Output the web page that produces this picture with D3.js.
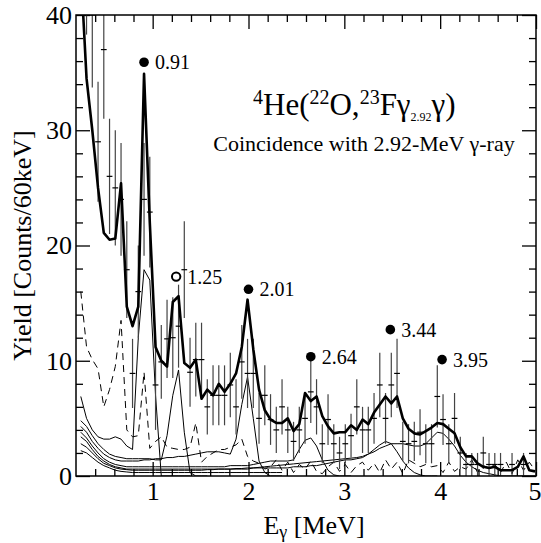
<!DOCTYPE html>
<html>
<head>
<meta charset="utf-8">
<script src="https://cdn.jsdelivr.net/npm/d3@7"></script>
<style>
  body { margin: 0; background: #fff; }
  svg, svg text { font-family: "Liberation Serif", "Times New Roman", Times, serif; }
</style>
</head>
<body>
<div id="chart"></div>
<script>
// bin centres, 60 keV bins
var energies = [
  0.25,0.31,0.37,0.43,0.49,0.55,0.61,0.67,0.73,0.79,
  0.85,0.91,0.97,1.03,1.09,1.15,1.21,1.27,1.33,1.39,
  1.45,1.51,1.57,1.63,1.69,1.75,1.81,1.87,1.93,1.99,
  2.05,2.11,2.17,2.23,2.29,2.35,2.41,2.47,2.53,2.59,
  2.65,2.71,2.77,2.83,2.89,2.95,3.01,3.07,3.13,3.19,
  3.25,3.31,3.37,3.43,3.49,3.55,3.61,3.67,3.73,3.79,
  3.85,3.91,3.97,4.03,4.09,4.15,4.21,4.27,4.33,4.39,
  4.45,4.51,4.57,4.63,4.69,4.75,4.81,4.87,4.93,4.99];

// measured counts and errors
var counts = [
  48, 45, 40, 29, 37, 26, 25, 24, 17.9, 8.9,
  16.0, 24, 22.9, 7.9, 9.9, 11.9, 12.0, 13.0, 17.9, 9.0,
  10.1, 10.1, 6.0, 7.0, 7.0, 7.0, 7.9, 6.0, 9.9, 8.9,
  8.9, 5.0, 7.0, 4.9, 4.0, 6.0, 4.0, 3.0, 4.0, 5.0,
  7.3, 6.0, 2.8, 4.9, 2.8, 2.0, 2.8, 3.5, 6.0, 4.0,
  4.0, 5.0, 7.9, 5.0, 7.9, 8.9, 3.0, 2.8, 3.0, 3.8,
  2.8, 2.8, 6.9, 4.9, 2.8, 5.0, 2.0, 1.0, 1.0, 1.0,
  2.0, 1.0, 1.0, 1.0, 0, 1.0, 0, 1.0, 0, 0];
var countErr = [
  7, 6.7, 6.3, 5.2, 6.0, 5.0, 5.0, 4.9, 4.2, 3.0,
  4.0, 4.9, 4.8, 3.9, 3.2, 3.4, 3.5, 3.6, 4.2, 3.0,
  3.2, 3.2, 2.4, 2.6, 2.6, 2.6, 2.8, 2.4, 3.2, 3.0,
  3.0, 2.2, 2.6, 2.2, 2.0, 2.4, 2.0, 1.7, 2.0, 2.2,
  2.7, 2.4, 1.7, 2.2, 1.7, 1.4, 1.7, 1.9, 2.4, 2.0,
  2.0, 2.2, 2.8, 2.2, 2.8, 3.0, 1.7, 1.7, 1.7, 2.0,
  1.7, 1.7, 2.7, 2.2, 1.7, 2.2, 1.4, 1.0, 1.0, 1.0,
  1.4, 1.0, 1.0, 1.0, 0, 1.0, 0, 1.0, 0, 0];

// total fit
var fitTotal = [
  44, 34.5, 30.0, 25.0, 21.1, 20.5, 20.6, 25.4, 14.7, 13.0,
  14.7, 34.9, 22.0, 11.2, 10.0, 9.5, 15.1, 15.6, 9.8, 9.4,
  10.1, 6.7, 7.5, 7.0, 8.0, 7.3, 8.0, 8.9, 11.2, 15.3,
  11.0, 7.5, 5.7, 4.9, 4.6, 4.6, 5.0, 3.9, 4.5, 7.2,
  6.5, 6.9, 5.2, 4.3, 3.7, 3.8, 3.8, 4.4, 4.0, 4.9,
  4.5, 5.5, 6.2, 6.9, 6.3, 6.9, 5.0, 4.1, 3.7, 3.6,
  3.9, 4.2, 4.6, 4.5, 4.1, 3.7, 2.5, 1.7, 1.7, 1.1,
  0.8, 0.7, 0.8, 0.5, 0.5, 0.5, 0.8, 1.7, 0.5, 0.4];

// response functions (thin solid)
var resp091 = [
  6.9, 5.0, 4.0, 3.4, 3.2, 3.2, 3.4, 3.2, 2.6, 2.3,
  12.0, 17.9, 17.0, 7.0, 0, 0, 0, 0, 0, 0];
var resp125 = [
  4.8, 4.3, 3.5, 2.8, 2.3, 1.9, 1.7, 1.6, 1.5, 1.5,
  1.5, 1.5, 1.5, 1.4, 1.4, 3.5, 7.0, 9.2, 3.8, 0.3,
  0, 0, 0];
var resp201 = [
  4.3, 3.8, 3.0, 2.4, 1.9, 1.6, 1.4, 1.3, 1.3, 1.3,
  1.3, 1.4, 1.4, 1.5, 1.5, 1.6, 1.6, 1.7, 1.7, 1.8,
  1.9, 2.0, 2.1, 2.1, 2.1, 2.0, 1.9, 3.2, 6.2, 8.6,
  5.0, 1.3, 0.3, 0, 0, 0];
var resp264 = [
  3.8, 3.3, 2.6, 2.0, 1.5, 1.2, 1.0, 0.9, 0.8, 0.8,
  0.8, 0.8, 0.8, 0.8, 0.8, 0.8, 0.8, 0.8, 0.8, 0.8,
  0.8, 0.8, 0.8, 0.8, 0.8, 0.8, 0.9, 0.9, 0.9, 0.9,
  1.0, 1.1, 1.2, 1.3, 1.3, 1.3, 1.3, 1.4, 2.3, 3.1,
  3.3, 2.6, 1.4, 0.5, 0.1, 0, 0, 0];
var resp344 = [
  3.4, 3.0, 2.3, 1.7, 1.3, 1.0, 0.8, 0.7, 0.6, 0.6,
  0.6, 0.6, 0.6, 0.6, 0.6, 0.6, 0.6, 0.6, 0.6, 0.6,
  0.6, 0.6, 0.6, 0.6, 0.6, 0.6, 0.6, 0.6, 0.6, 0.6,
  0.7, 0.7, 0.7, 0.7, 0.7, 0.7, 0.7, 0.8, 0.8, 0.8,
  0.9, 0.9, 1.0, 1.1, 1.2, 1.3, 1.4, 1.4, 1.5, 1.6,
  1.9, 2.3, 2.7, 3.0, 2.8, 2.1, 1.3, 0.7, 0.3, 0.1,
  0, 0, 0];
var resp395 = [
  2.8, 2.5, 2.0, 1.5, 1.1, 0.9, 0.7, 0.6, 0.55, 0.5,
  0.5, 0.5, 0.5, 0.5, 0.5, 0.5, 0.5, 0.5, 0.5, 0.5,
  0.5, 0.5, 0.55, 0.55, 0.6, 0.6, 0.6, 0.65, 0.65, 0.7,
  0.7, 0.75, 0.8, 0.85, 0.9, 0.95, 1.0, 1.05, 1.1, 1.15,
  1.2, 1.25, 1.3, 1.35, 1.4, 1.45, 1.5, 1.55, 1.6, 1.7,
  1.9, 2.1, 2.4, 2.6, 2.8, 2.8, 2.8, 2.7, 2.6, 2.6,
  2.8, 3.3, 3.8, 3.7, 3.2, 2.6, 1.8, 1.2, 0.8, 0.5,
  0.3, 0.2, 0.1, 0, 0, 0, 0, 0, 0, 0];
var lowCurve = [
  2.2, 2.0, 1.6, 1.2, 0.9, 0.7, 0.5, 0.4, 0.35, 0.3,
  0.3, 0.3, 0.3, 0.3, 0.3, 0.3, 0.3, 0.3, 0.3, 0.3,
  0.3, 0.3, 0.3, 0.3, 0.3, 0.3, 0.3, 0.3, 0.3, 0.3,
  0.3, 0.3, 0.3, 0.3, 0.3, 0.3];

// background (dashed)
var background = [
  16, 11.2, 10.1, 9.3, 6.0, 7.5, 9.5, 13.5, 4.0, 3.4,
  3.5, 9.0, 2.4, 3.0, 3.4, 2.5, 2.4, 2.3, 2.3, 2.5,
  4.6, 1.2, 1.7, 2.0, 2.3, 2.3, 2.5, 2.7, 3.2, 1.7,
  1.3, 1.1, 0.6, 0.8, 1.4, 0.5, 1.2, 0.3, 1.0, 0.6,
  1.3, 0.4, 0.2, 0.8, 1.2, 0.4, 1.0, 0.3, 0.9, 1.2,
  0.5, 1.1, 0.3, 1.4, 0.6, 1.2, 0.2, 1.4, 1.1, 0.8,
  1.0, 0.8, 0.9, 0.3, 1.2, 0.4, 0.8, 0.6, 1.4, 0.3,
  0.9, 0.7, 1.0, 0.3, 1.2, 0.2, 1.4, 0.5, 1.2, 0.5];

// peak markers
var peakLabels = ["0.91", "1.25", "2.01", "2.64", "3.44", "3.95"];
var peakDotE   = [0.91, 1.245, 2.00, 2.65, 3.48, 4.02];
var peakDotY   = [35.9, 17.3, 16.2, 10.35, 12.7, 10.1];
var peakOpen   = [false, true, false, false, false, false];

var xMajor = [1, 2, 3, 4, 5];
var xMinor = [0.4,0.6,0.8,1.2,1.4,1.6,1.8,2.2,2.4,2.6,2.8,3.2,3.4,3.6,3.8,4.2,4.4,4.6,4.8];
var yMajor = [0, 10, 20, 30, 40];
var yMinor = [2,4,6,8,12,14,16,18,22,24,26,28,32,34,36,38];

var margin = { top: 15, right: 5, bottom: 67, left: 76 };
var width = 541 - margin.left - margin.right;
var height = 543 - margin.top - margin.bottom;

var svg = d3.select("#chart")
  .append("svg")
  .attr("width", 541)
  .attr("height", 543);

var g = svg.append("g")
  .attr("transform", "translate(" + margin.left + "," + margin.top + ")");

var x = d3.scaleLinear().domain([0.2, 5]).range([0, width]);
var y = d3.scaleLinear().domain([0, 40]).range([height, 0]);

svg.append("defs").append("clipPath").attr("id", "clip")
  .append("rect").attr("width", width).attr("height", height);

// axes, ticks inside on all four sides
function styleAxis(sel, fs) {
  sel.select(".domain").remove();
  sel.attr("font-family", null).attr("font-size", null);
  sel.selectAll(".tick line").attr("stroke", "#000").attr("stroke-width", 1.3);
  sel.selectAll("text").attr("font-size", fs).attr("fill", "#000");
}

var xAxisG = g.append("g").attr("transform", "translate(0," + height + ")")
  .call(d3.axisBottom(x).tickValues(xMajor).tickSize(-14).tickSizeOuter(0).tickPadding(6).tickFormat(d3.format("d")))
  .call(styleAxis, 26);
// last label sits on the window edge
xAxisG.selectAll(".tick text").filter(d => d === 5).attr("text-anchor", "end").attr("dx", 5);

g.append("g").attr("transform", "translate(0," + height + ")")
  .call(d3.axisBottom(x).tickValues(xMinor).tickSize(-7).tickSizeOuter(0).tickFormat(""))
  .call(styleAxis, 0);
g.append("g")
  .call(d3.axisTop(x).tickValues(xMajor).tickSize(-14).tickSizeOuter(0).tickFormat(""))
  .call(styleAxis, 0);
g.append("g")
  .call(d3.axisTop(x).tickValues(xMinor).tickSize(-7).tickSizeOuter(0).tickFormat(""))
  .call(styleAxis, 0);

g.append("g")
  .call(d3.axisLeft(y).tickValues(yMajor).tickSize(-14).tickSizeOuter(0).tickPadding(4).tickFormat(d3.format("d")))
  .call(styleAxis, 26);
g.append("g")
  .call(d3.axisLeft(y).tickValues(yMinor).tickSize(-7).tickSizeOuter(0).tickFormat(""))
  .call(styleAxis, 0);
g.append("g").attr("transform", "translate(" + width + ",0)")
  .call(d3.axisRight(y).tickValues(yMajor).tickSize(-14).tickSizeOuter(0).tickFormat(""))
  .call(styleAxis, 0);
g.append("g").attr("transform", "translate(" + width + ",0)")
  .call(d3.axisRight(y).tickValues(yMinor).tickSize(-7).tickSizeOuter(0).tickFormat(""))
  .call(styleAxis, 0);

var plot = g.append("g").attr("clip-path", "url(#clip)");

var line = d3.line()
  .x((d, i) => x(energies[i]))
  .y(d => y(d));

// background dashed
plot.append("path").datum(background)
  .attr("d", line).attr("fill", "none")
  .attr("stroke", "#000").attr("stroke-width", 1).attr("stroke-dasharray", "7,5");

// thin response curves
[resp091, resp125, resp201, resp264, resp344, resp395, lowCurve].forEach(function(s) {
  plot.append("path").datum(s)
    .attr("d", line).attr("fill", "none")
    .attr("stroke", "#000").attr("stroke-width", 1);
});

// data points with error bars
var pts = energies.map((e, i) => ({ e: e, v: counts[i], err: countErr[i] })).filter(d => d.v > 0);

plot.selectAll(".ebar").data(pts).enter().append("line")
  .attr("x1", d => x(d.e)).attr("x2", d => x(d.e))
  .attr("y1", d => y(d.v - d.err)).attr("y2", d => y(d.v + d.err))
  .attr("stroke", "#444").attr("stroke-width", 1.2);

plot.selectAll(".hbar").data(pts).enter().append("line")
  .attr("x1", d => x(d.e - 0.03)).attr("x2", d => x(d.e + 0.03))
  .attr("y1", d => y(d.v)).attr("y2", d => y(d.v))
  .attr("stroke", "#000").attr("stroke-width", 1.2);

// total fit
plot.append("path").datum(fitTotal)
  .attr("d", line).attr("fill", "none")
  .attr("stroke", "#000").attr("stroke-width", 2.6).attr("stroke-linejoin", "round");

// frame
g.append("rect").attr("width", width).attr("height", height)
  .attr("fill", "none").attr("stroke", "#000").attr("stroke-width", 1.5);

// peak markers
peakLabels.forEach(function(lab, i) {
  g.append("circle")
    .attr("cx", x(peakDotE[i])).attr("cy", y(peakDotY[i])).attr("r", peakOpen[i] ? 4.2 : 4.8)
    .attr("fill", peakOpen[i] ? "#fff" : "#000")
    .attr("stroke", "#000").attr("stroke-width", peakOpen[i] ? 2 : 0);
  g.append("text")
    .attr("x", x(peakDotE[i]) + 11).attr("y", y(peakDotY[i])).attr("dy", "0.35em")
    .attr("font-size", 20).text(lab);
});

// reaction title
var t = svg.append("text").attr("x", 253).attr("y", 115).attr("font-size", 31);
t.append("tspan").attr("font-size", 20).attr("dy", -11).text("4");
t.append("tspan").attr("dy", 11).text("He(");
t.append("tspan").attr("font-size", 20).attr("dy", -11).text("22");
t.append("tspan").attr("dy", 11).text("O,");
t.append("tspan").attr("font-size", 20).attr("dy", -11).text("23");
t.append("tspan").attr("dy", 11).text("F\u03b3");
t.append("tspan").attr("font-size", 12).attr("dy", 6).text("2.92");
t.append("tspan").attr("dy", -6).text("\u03b3)");

svg.append("text").attr("x", 364).attr("y", 151).attr("text-anchor", "middle")
  .attr("font-size", 22).text("Coincidence with 2.92-MeV \u03b3-ray");

// axis titles
var xt = svg.append("text").attr("x", margin.left + width / 2 + 8).attr("y", 534)
  .attr("text-anchor", "middle").attr("font-size", 26);
xt.append("tspan").text("E");
xt.append("tspan").attr("font-size", 18).attr("dy", 4).text("\u03b3");
xt.append("tspan").attr("dy", -4).text(" [MeV]");

svg.append("text")
  .attr("transform", "translate(31," + (margin.top + height / 2) + ") rotate(-90)")
  .attr("text-anchor", "middle").attr("font-size", 26)
  .text("Yield [Counts/60keV]");
</script>
</body>
</html>
